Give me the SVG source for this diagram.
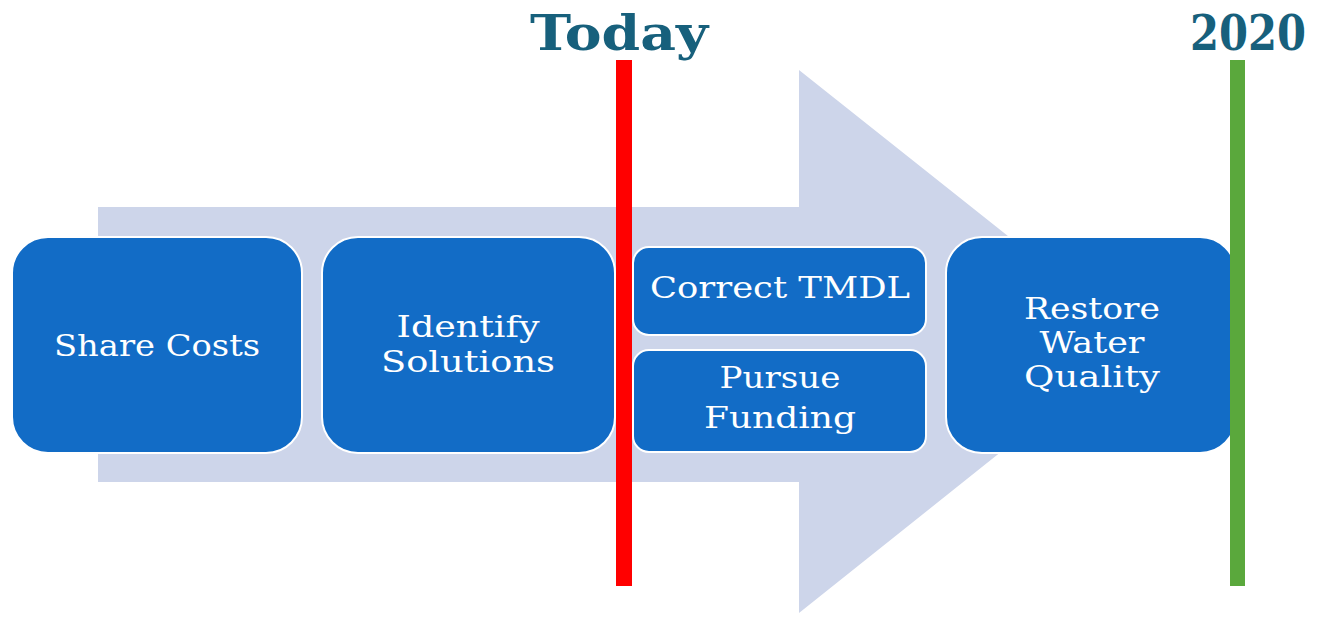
<svg xmlns="http://www.w3.org/2000/svg" width="1323" height="617" viewBox="0 0 1323 617">
  <style>
    .box { fill: #126CC6; stroke: #FFFFFF; stroke-width: 2; }
    .lbl { font-family: "DejaVu Serif", "Liberation Serif", serif; font-size: 30px; fill: #FFFFFF; text-anchor: middle; }
    .head { font-family: "DejaVu Serif", "Liberation Serif", serif; font-weight: bold; font-size: 48px; fill: #17607C; text-anchor: middle; }
  </style>
  <rect width="1323" height="617" fill="#FFFFFF"/>
  <g id="background-arrow">
    <polygon points="98,207 799,207 799,70 1140,341 799,613 799,482 98,482" fill="#CDD5EA"/>
  </g>
  <g id="share-costs">
    <rect class="box" x="12" y="237" width="290" height="216" rx="36"/>
    <text class="lbl" x="157" y="356" textLength="206" lengthAdjust="spacingAndGlyphs">Share Costs</text>
  </g>
  <g id="identify-solutions">
    <rect class="box" x="322" y="237" width="293" height="216" rx="36"/>
    <text class="lbl" x="468" y="337" textLength="143" lengthAdjust="spacingAndGlyphs">Identify</text>
    <text class="lbl" x="468" y="372" textLength="174" lengthAdjust="spacingAndGlyphs">Solutions</text>
  </g>
  <g id="correct-tmdl">
    <rect class="box" x="633" y="247" width="293" height="88" rx="16"/>
    <text class="lbl" x="780" y="298" textLength="260" lengthAdjust="spacingAndGlyphs">Correct TMDL</text>
  </g>
  <g id="pursue-funding">
    <rect class="box" x="633" y="350" width="293" height="102" rx="16"/>
    <text class="lbl" x="780" y="388" textLength="121" lengthAdjust="spacingAndGlyphs">Pursue</text>
    <text class="lbl" x="780" y="428" textLength="152" lengthAdjust="spacingAndGlyphs">Funding</text>
  </g>
  <g id="restore-water-quality">
    <rect class="box" x="946" y="237" width="290" height="216" rx="36"/>
    <text class="lbl" x="1092" y="319" textLength="136" lengthAdjust="spacingAndGlyphs">Restore</text>
    <text class="lbl" x="1092" y="353" textLength="105" lengthAdjust="spacingAndGlyphs">Water</text>
    <text class="lbl" x="1092" y="387" textLength="136" lengthAdjust="spacingAndGlyphs">Quality</text>
  </g>
  <g id="connectors">
    <g id="today-marker">
      <rect x="616" y="60" width="16" height="526" fill="#FF0000"/>
      <text class="head" x="619" y="50" textLength="178" lengthAdjust="spacingAndGlyphs">Today</text>
    </g>
    <g id="year-2020-marker">
      <rect x="1230" y="60" width="15" height="526" fill="#5AA83C"/>
      <text class="head" x="1248" y="50" textLength="116" lengthAdjust="spacingAndGlyphs">2020</text>
    </g>
  </g>
</svg>
